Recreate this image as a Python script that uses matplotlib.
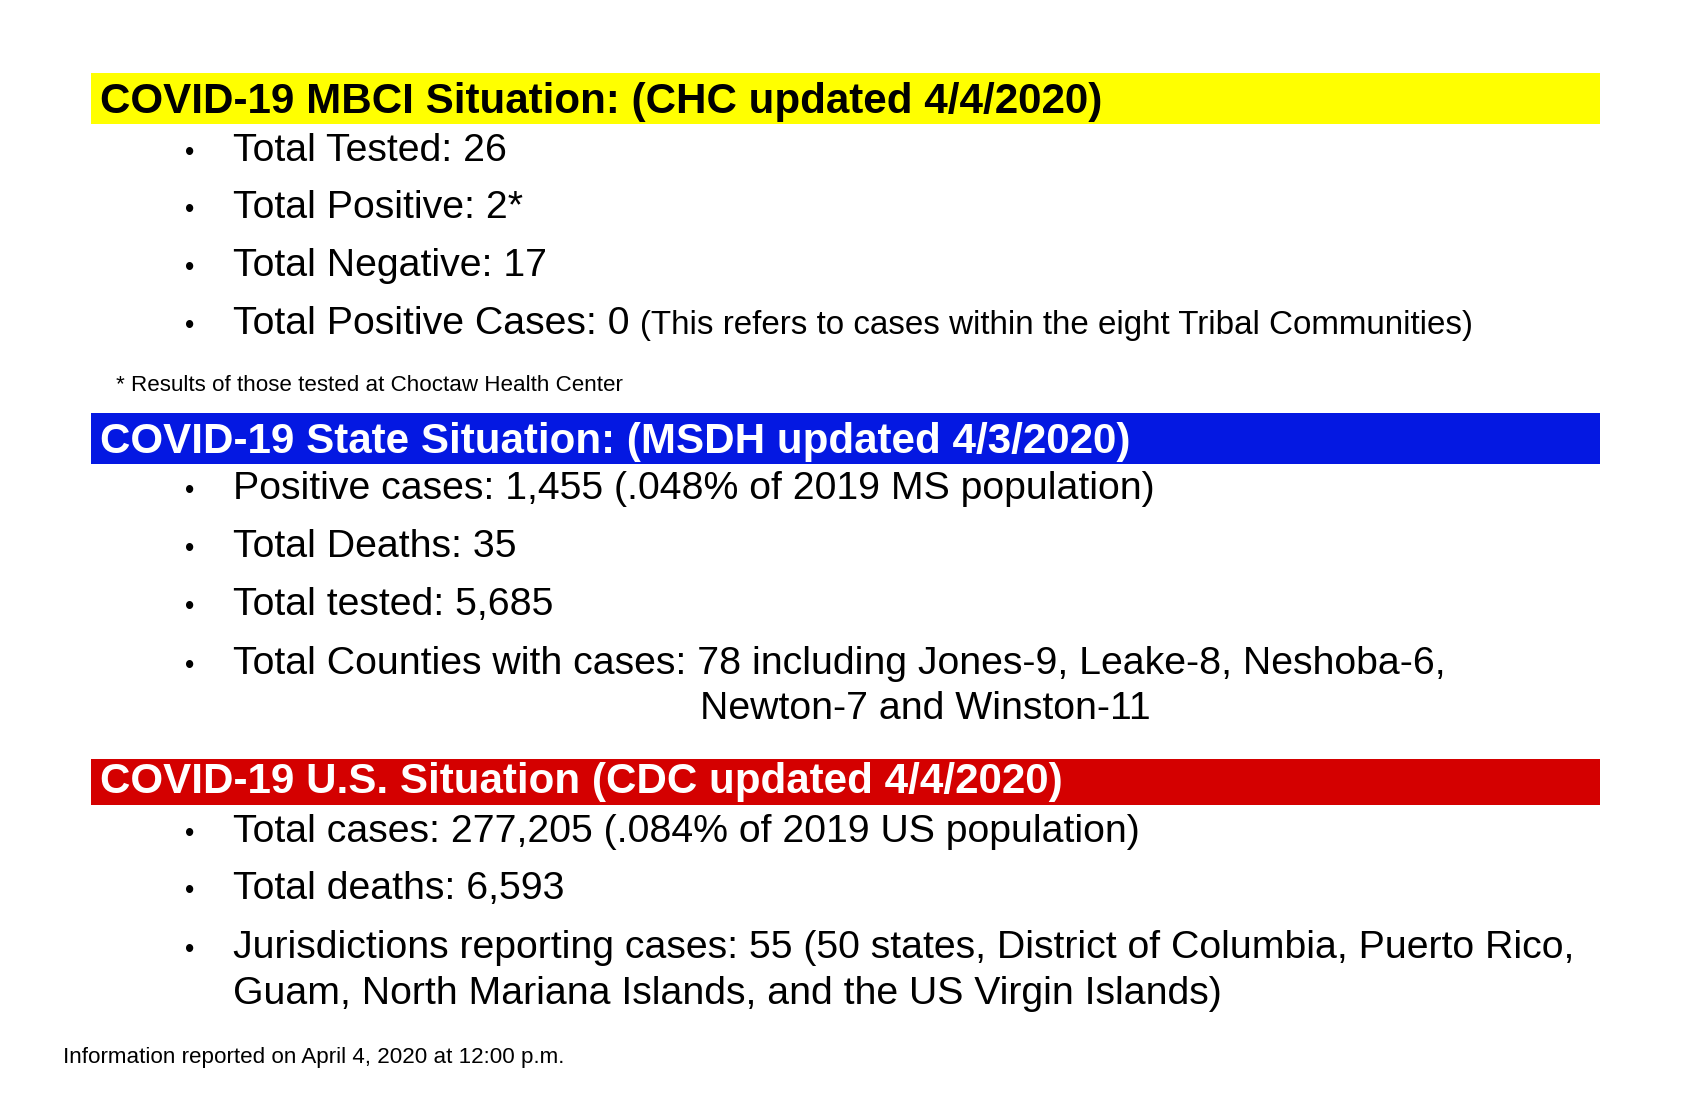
import matplotlib
matplotlib.use("Agg")
import matplotlib.pyplot as plt
from matplotlib.patches import Rectangle

FONT = ["Liberation Sans", "DejaVu Sans"]

# ---- content ----
headers = [
    "COVID-19 MBCI Situation: (CHC updated 4/4/2020)",
    "COVID-19 State Situation: (MSDH updated 4/3/2020)",
    "COVID-19 U.S. Situation (CDC updated 4/4/2020)",
]
header_colors = ["#FFFF00", "#0418E2", "#D40000"]
header_text_colors = ["black", "white", "white"]

mbci_items = ["Total Tested: 26", "Total Positive: 2*", "Total Negative: 17",
              "Total Positive Cases: 0"]
mbci_note = "(This refers to cases within the eight Tribal Communities)"
mbci_footnote = "* Results of those tested at Choctaw Health Center"

state_items = ["Positive cases: 1,455 (.048% of 2019 MS population)",
               "Total Deaths: 35",
               "Total tested: 5,685",
               "Total Counties with cases: 78 including Jones-9, Leake-8, Neshoba-6,"]
state_cont = "Newton-7 and Winston-11"

us_items = ["Total cases: 277,205 (.084% of 2019 US population)",
            "Total deaths: 6,593",
            "Jurisdictions reporting cases: 55 (50 states, District of Columbia, Puerto Rico,"]
us_cont = "Guam, North Mariana Islands, and the US Virgin Islands)"

bottom_note = "Information reported on April 4, 2020 at 12:00 p.m."

# ---- layout (pixel frame) ----
W, H = 1700, 1100
fig = plt.figure(figsize=(17, 11), dpi=100)
ax = fig.add_axes([0, 0, 1, 1])
ax.set_xlim(0, W)
ax.set_ylim(H, 0)
ax.axis("off")
fig.canvas.draw()
renderer = fig.canvas.get_renderer()


def fit_size(text, target_w, weight="normal", base=30):
    t = ax.text(0, 0, text, fontsize=base, family=FONT, weight=weight)
    w = t.get_window_extent(renderer).width
    t.remove()
    return base * target_w / w


body_fs = fit_size(us_items[2], 1343)
head_fs = fit_size(headers[0], 1001, weight="bold")
note_fs = fit_size(mbci_note, 833)
foot_fs = fit_size(mbci_footnote, 505)
bottom_fs = fit_size(bottom_note, 500)

bar_x0, bar_x1 = 91, 1600
bars = [(73, 124, 113), (413, 464, 453), (759, 805, 793)]
for (y0, y1, base), txt, fc, tc in zip(bars, headers, header_colors, header_text_colors):
    ax.add_patch(Rectangle((bar_x0, y0), bar_x1 - bar_x0, y1 - y0, facecolor=fc,
                           edgecolor="none"))
    ax.text(100, base, txt, fontsize=head_fs, family=FONT, weight="bold", color=tc,
            va="baseline", ha="left")

bullet_x, text_x = 190, 233


def bullet_list(items, baselines):
    for item, b in zip(items, baselines):
        ax.text(bullet_x, b - 1, "\u2022", fontsize=body_fs * 0.68, family=FONT,
                va="baseline", ha="center")
        ax.text(text_x, b, item, fontsize=body_fs, family=FONT, va="baseline", ha="left")


bullet_list(mbci_items, [161, 218, 276, 334])
ax.text(640, 334, mbci_note, fontsize=note_fs, family=FONT, va="baseline", ha="left")
ax.text(116, 391, mbci_footnote, fontsize=foot_fs, family=FONT, va="baseline", ha="left")

bullet_list(state_items, [499, 557, 615, 674])
ax.text(700, 719, state_cont, fontsize=body_fs, family=FONT, va="baseline", ha="left")

bullet_list(us_items, [842, 899, 958])
ax.text(text_x, 1004, us_cont, fontsize=body_fs, family=FONT, va="baseline", ha="left")

ax.text(63, 1063, bottom_note, fontsize=bottom_fs, family=FONT, va="baseline", ha="left")

fig.savefig("out.png", dpi=100, facecolor="white")
